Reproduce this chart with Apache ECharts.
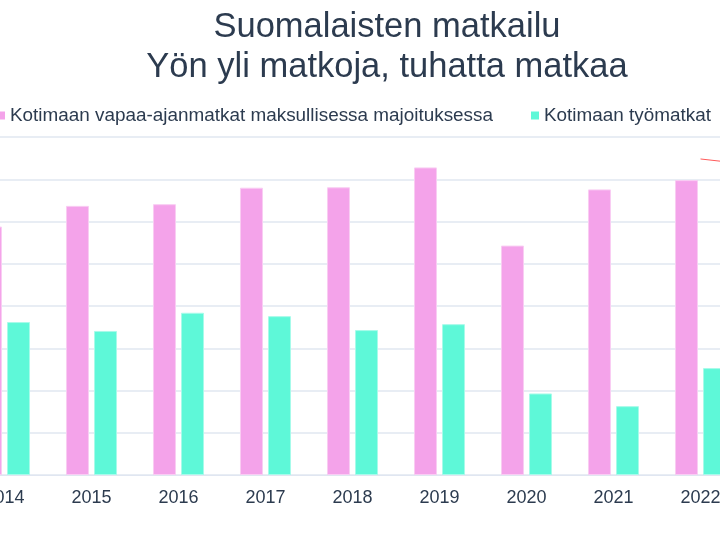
<!DOCTYPE html>
<html>
<head>
<meta charset="utf-8">
<script src="https://cdn.jsdelivr.net/npm/echarts@6/dist/echarts.min.js"></script>
<style>
  html, body {margin: 0; padding: 0; background: #fff; overflow: hidden;}
  /* kaavio on leveämpi kuin ikkuna, reunat jäävät näkymän ulkopuolelle */
  #main {position: absolute; left: -39px; top: 0; width: 870px; height: 540px;}
</style>
</head>
<body>
<div id="main"></div>
<script>
// vuodet, tuhatta matkaa
var years = ['2014', '2015', '2016', '2017', '2018', '2019', '2020', '2021', '2022', '2023'];
var vapaaAika = [5880, 6370, 6410, 6800, 6810, 7280, 5430, 6760, 6980, null];
var tyomatkat = [3620, 3410, 3840, 3760, 3430, 3570, 1930, 1630, 2530, null];
// punainen viiva oikeassa reunassa
var punainen = [null, null, null, null, null, null, null, null, 7480, 7250];

var dom = document.getElementById('main');
var myChart = echarts.init(dom);

var option = {
    animation: false,
    textStyle: {fontFamily: 'Liberation Sans, Arial, sans-serif'},
    title: {
        text: 'Suomalaisten matkailu\nYön yli matkoja, tuhatta matkaa',
        left: 421,
        top: 2,
        textAlign: 'center',
        textStyle: {
            fontSize: 34.5,
            fontWeight: 'normal',
            color: '#2c3b4f',
            lineHeight: 40
        }
    },
    legend: {
        left: 31,
        top: 101,
        itemWidth: 8,
        itemHeight: 8,
        itemGap: 38,
        icon: 'rect',
        itemStyle: {borderWidth: 0},
        data: ['Kotimaan vapaa-ajanmatkat maksullisessa majoituksessa', 'Kotimaan työmatkat'],
        textStyle: {fontSize: 18.9, color: '#2c3b4f'}
    },
    grid: {left: 0, right: 0, top: 137, bottom: 65, containLabel: false},
    xAxis: {
        type: 'category',
        data: years,
        axisTick: {show: false},
        axisLine: {lineStyle: {color: '#e0e6f1'}},
        axisLabel: {fontSize: 18, color: '#2c3b4f', margin: 14}
    },
    yAxis: {
        type: 'value',
        min: 0,
        max: 8000,
        interval: 1000,
        axisLabel: {show: false},
        splitLine: {lineStyle: {color: '#e1e7f1', width: 1.5}}
    },
    series: [
        {
            name: 'Kotimaan vapaa-ajanmatkat maksullisessa majoituksessa',
            type: 'bar',
            data: vapaaAika,
            barWidth: 23,
            barGap: '22%',
            itemStyle: {color: '#f4a3ea', borderColor: '#f9cdf3', borderWidth: 1}
        },
        {
            name: 'Kotimaan työmatkat',
            type: 'bar',
            data: tyomatkat,
            barWidth: 23,
            itemStyle: {color: '#5ef8d8', borderColor: '#a8fbea', borderWidth: 1}
        },
        {
            name: 'viiva',
            type: 'line',
            data: punainen,
            showSymbol: false,
            lineStyle: {color: '#ff5a5a', width: 1},
            itemStyle: {color: '#ff5a5a'}
        }
    ]
};

if (option && typeof option === 'object') {
    myChart.setOption(option, true);
}
</script>
</body>
</html>
